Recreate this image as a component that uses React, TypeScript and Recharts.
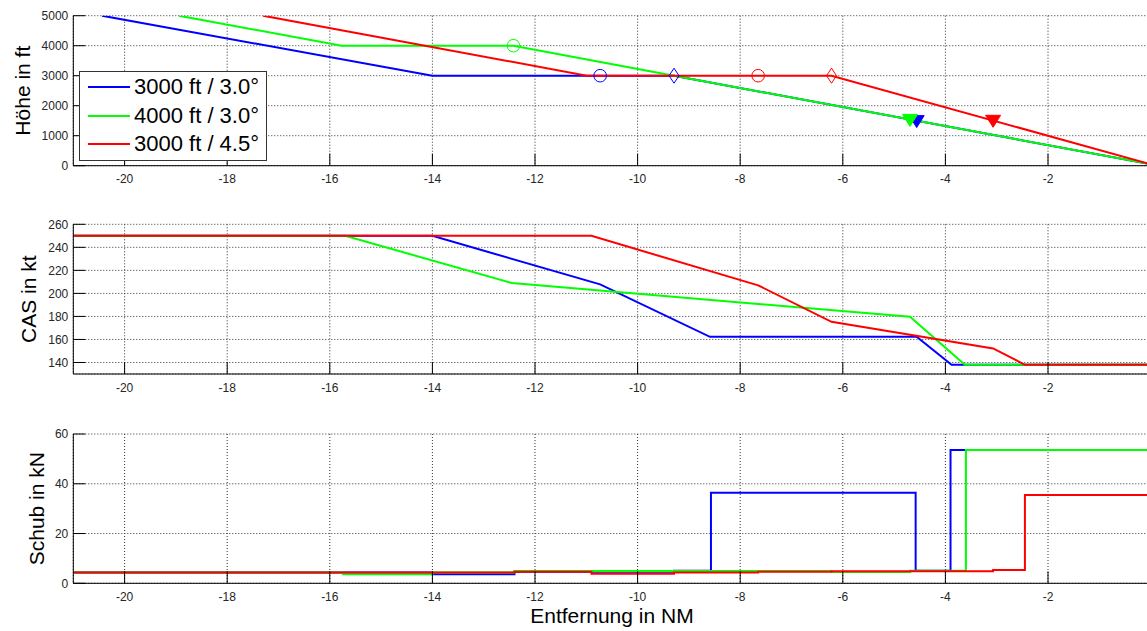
import React from 'react';
import { ComposedChart, Line, Scatter, XAxis, YAxis, CartesianGrid, Legend } from 'recharts';

const FONT = '"Liberation Sans", Arial, Helvetica, sans-serif';

const xTicks = [-20, -18, -16, -14, -12, -10, -8, -6, -4, -2, 0];
const altTicks = [0, 1000, 2000, 3000, 4000, 5000];
const casTicks = [140, 160, 180, 200, 220, 240, 260];
const thrustTicks = [0, 20, 40, 60];

const seriesNames = ['3000 ft / 3.0°', '4000 ft / 3.0°', '3000 ft / 4.5°'];
const seriesColors = ['#0000ff', '#00ff00', '#ff0000'];

// Höhe (ft)
const altBlueX = [-20.44, -14.0, -9.29, 0];
const altBlueY = [5000, 3000, 3000, 50];
const altGreenX = [-18.94, -15.77, -12.42, -9.29, 0];
const altGreenY = [5000, 4000, 4000, 3000, 50];
const altRedX = [-17.3, -10.99, -6.22, 0];
const altRedY = [5000, 3000, 3000, 50];

// markers on altitude profile (series index, x, y)
const circleSeries = [0, 1, 2];
const circleX = [-10.73, -12.42, -7.65];
const circleY = [3000, 4000, 3000];
const diamondSeries = [0, 2];
const diamondX = [-9.29, -6.22];
const diamondY = [3000, 3000];
const triangleSeries = [0, 1, 2];
const triangleX = [-4.56, -4.69, -3.07];
const triangleY = [1470, 1510, 1480];

// CAS (kt)
const casBlueX = [-21, -14.0, -10.73, -8.59, -4.56, -3.88, 0];
const casBlueY = [250, 250, 207.8, 162.3, 162.3, 138, 138];
const casGreenX = [-21, -15.7, -12.45, -4.69, -3.62, 0];
const casGreenY = [250, 250, 209, 179.7, 138, 138];
const casRedX = [-21, -10.9, -7.65, -6.22, -3.07, -2.45, 0];
const casRedY = [250, 250, 207, 175.3, 152.2, 138, 138];

// Schub (kN)
const thrBlueX = [-21, -14, -12.4, -9.29, -8.57, -4.58, -3.9, 0];
const thrBlueY = [4.3, 3.6, 4.6, 5.0, 36.4, 5.0, 53.6, 53.6];
const thrGreenX = [-21, -15.74, -14, -12.4, -6.22, -4.69, -3.6, 0];
const thrGreenY = [4.3, 3.6, 4.3, 4.9, 4.5, 5.0, 53.6, 53.6];
const thrRedX = [-21, -12.4, -10.9, -9.29, -7.65, -6.22, -3.07, -2.45, 0];
const thrRedY = [4.3, 4.6, 3.8, 4.3, 4.6, 4.8, 5.3, 35.5, 35.5];

const zip = (xs: number[], ys: number[]) => xs.map((x, i) => ({ x, y: ys[i] }));

const altSeries = [zip(altBlueX, altBlueY), zip(altGreenX, altGreenY), zip(altRedX, altRedY)];
const casSeries = [zip(casBlueX, casBlueY), zip(casGreenX, casGreenY), zip(casRedX, casRedY)];
const thrSeries = [zip(thrBlueX, thrBlueY), zip(thrGreenX, thrGreenY), zip(thrRedX, thrRedY)];

const CHART_W = 1200;
const PLOT_LEFT = 73.3;
const PLOT_RIGHT = 1150.6;

const tickStyle = { fontSize: 12, fill: '#262626', fontFamily: FONT };

const circleShape = (color: string) => (p: any) => (
  <circle cx={p.cx} cy={p.cy} r={6.3} fill="none" stroke={color} strokeWidth={1} />
);
const diamondShape = (color: string) => (p: any) => (
  <polygon
    points={`${p.cx},${p.cy - 7.5} ${p.cx + 5},${p.cy} ${p.cx},${p.cy + 7.5} ${p.cx - 5},${p.cy}`}
    fill="none"
    stroke={color}
    strokeWidth={1}
  />
);
const triangleShape = (color: string) => (p: any) => (
  <polygon
    points={`${p.cx - 7.5},${p.cy - 6} ${p.cx + 7.5},${p.cy - 6} ${p.cx},${p.cy + 6}`}
    fill={color}
    stroke={color}
    strokeWidth={1}
  />
);

const renderLegend = () => (
  <div
    style={{
      width: 186,
      height: 88,
      border: '1px solid #333',
      background: '#fff',
      position: 'relative',
      fontFamily: FONT,
    }}
  >
    {seriesNames.map((n, i) => (
      <div
        key={n}
        style={{
          position: 'absolute',
          left: 0,
          top: 15 + i * 28.5 - 14,
          height: 28,
          display: 'flex',
          alignItems: 'center',
          whiteSpace: 'nowrap',
        }}
      >
        <svg width={54} height={28} style={{ display: 'block' }}>
          <line x1={8} x2={50} y1={14} y2={14} stroke={seriesColors[i]} strokeWidth={2} />
        </svg>
        <span style={{ fontSize: 22, lineHeight: '28px', color: '#000' }}>{n}</span>
      </div>
    ))}
  </div>
);

function xAxis(height: number, label?: any) {
  return (
    <XAxis
      type="number"
      dataKey="x"
      domain={[-21, 0]}
      ticks={xTicks}
      interval={0}
      allowDataOverflow
      height={height}
      tickSize={-12}
      tickMargin={21}
      tick={tickStyle}
      axisLine={{ stroke: '#000', strokeWidth: 1 }}
      tickLine={{ stroke: '#000', strokeWidth: 1 }}
      label={label}
    />
  );
}

function yAxis(domain: number[], ticks: number[], label: string, labelX: number) {
  return (
    <YAxis
      type="number"
      dataKey="y"
      domain={domain}
      ticks={ticks}
      interval={0}
      allowDataOverflow
      width={PLOT_LEFT}
      tickSize={-12}
      tickMargin={17}
      tick={tickStyle}
      axisLine={{ stroke: '#000', strokeWidth: 1 }}
      tickLine={{ stroke: '#000', strokeWidth: 1 }}
      label={{
        value: label,
        angle: -90,
        position: 'insideLeft',
        offset: labelX,
        style: { textAnchor: 'middle', fontSize: 21, fill: '#000', fontFamily: FONT },
      }}
    />
  );
}

const grid = <CartesianGrid strokeDasharray="1 2" stroke="#333" strokeWidth={1} />;

export default function App() {
  const mr = CHART_W - PLOT_RIGHT;
  return (
    <div
      style={{
        position: 'absolute',
        left: 0,
        top: 0,
        width: 1147,
        height: 631,
        overflow: 'hidden',
        background: '#fff',
      }}
    >
      <div style={{ position: 'absolute', left: 0, top: 0 }}>
        <ComposedChart width={CHART_W} height={200} margin={{ top: 15.7, right: mr, bottom: 4.3, left: 0 }}>
          {grid}
          {xAxis(30)}
          {yAxis([0, 5000], altTicks, 'Höhe in ft', 23)}
          {altSeries.map((d, i) => (
            <Line
              key={'alt' + i}
              data={d}
              dataKey="y"
              type="linear"
              stroke={seriesColors[i]}
              strokeWidth={2}
              dot={false}
              activeDot={false}
              isAnimationActive={false}
            />
          ))}
          {circleSeries.map((s, i) => (
            <Scatter
              key={'c' + i}
              data={[{ x: circleX[i], y: circleY[i] }]}
              dataKey="y"
              shape={circleShape(seriesColors[s])}
              isAnimationActive={false}
            />
          ))}
          {diamondSeries.map((s, i) => (
            <Scatter
              key={'d' + i}
              data={[{ x: diamondX[i], y: diamondY[i] }]}
              dataKey="y"
              shape={diamondShape(seriesColors[s])}
              isAnimationActive={false}
            />
          ))}
          {triangleSeries.map((s, i) => (
            <Scatter
              key={'t' + i}
              data={[{ x: triangleX[i], y: triangleY[i] }]}
              dataKey="y"
              shape={triangleShape(seriesColors[s])}
              isAnimationActive={false}
            />
          ))}
          <Legend
            layout="vertical"
            align="center"
            verticalAlign="middle"
            content={renderLegend}
            wrapperStyle={{ position: 'absolute', left: 79, top: 71, width: 188, height: 90 }}
          />
        </ComposedChart>
      </div>

      <div style={{ position: 'absolute', left: 0, top: 200 }}>
        <ComposedChart width={CHART_W} height={210} margin={{ top: 24.3, right: mr, bottom: 6, left: 0 }}>
          {grid}
          {xAxis(30)}
          {yAxis([130, 260], casTicks, 'CAS in kt', 28.7)}
          {casSeries.map((d, i) => (
            <Line
              key={'cas' + i}
              data={d}
              dataKey="y"
              type="linear"
              stroke={seriesColors[i]}
              strokeWidth={2}
              dot={false}
              activeDot={false}
              isAnimationActive={false}
            />
          ))}
        </ComposedChart>
      </div>

      <div style={{ position: 'absolute', left: 0, top: 410 }}>
        <ComposedChart width={CHART_W} height={221} margin={{ top: 24, right: mr, bottom: 2.7, left: 0 }}>
          {grid}
          {xAxis(45, {
            value: 'Entfernung in NM',
            position: 'insideBottom',
            offset: 5.3,
            style: { fontSize: 21, fill: '#000', fontFamily: FONT },
          })}
          {yAxis([0, 60], thrustTicks, 'Schub in kN', 36.5)}
          {thrSeries.map((d, i) => (
            <Line
              key={'thr' + i}
              data={d}
              dataKey="y"
              type="stepAfter"
              stroke={seriesColors[i]}
              strokeWidth={2}
              dot={false}
              activeDot={false}
              isAnimationActive={false}
            />
          ))}
        </ComposedChart>
      </div>
    </div>
  );
}
